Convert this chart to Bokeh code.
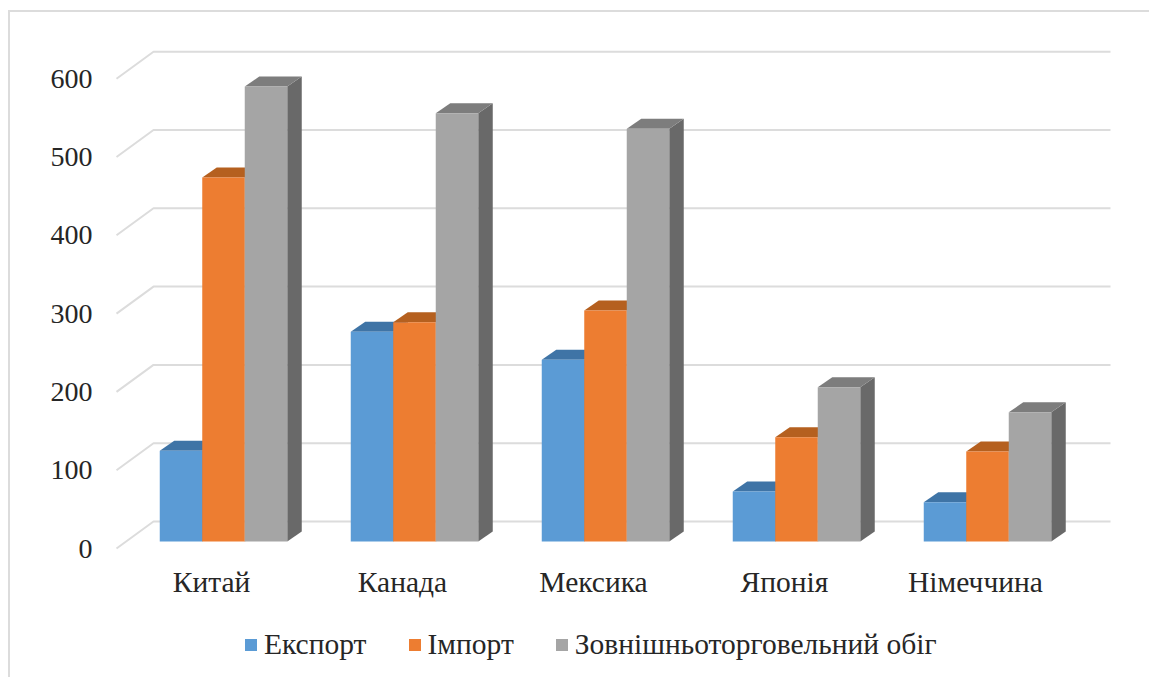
from bokeh.core.properties import value
from bokeh.embed import file_html
from bokeh.models import FixedTicker, Legend, LegendItem, LinearAxis, Range1d
from bokeh.plotting import figure
from bokeh.resources import INLINE

# Trade volumes by partner country
countries = ["Китай", "Канада", "Мексика", "Японія", "Німеччина"]
export_values = [116, 268, 232, 64, 50]
import_values = [465, 280, 295, 133, 115]
turnover_values = [581, 547, 527, 197, 165]
series_names = ["Експорт", "Імпорт", "Зовнішньоторговельний обіг"]
value_ticks = [0, 100, 200, 300, 400, 500, 600]

FONT = "Liberation Serif"
TEXT = "#262626"
GRID = "#dcdcdc"
FACE = ["#5b9bd5", "#ed7d31", "#a5a5a5"]
TOP = ["#3f74a6", "#b5601f", "#7d7d7d"]
SIDE = ["#35628c", "#8f4c19", "#696969"]

# Page geometry of the pseudo-3D plot box, in pixels
PAGE_W, PAGE_H = 1151, 679
ORIGIN_X, BASE_Y = 223.0, 541.0
GROUP_PX, UNIT_PX = 191.0, 0.783
BAR_PX = 42.5
DEPTH_X_PX, DEPTH_Y_PX = 14.5, 10.0
LEFT, TOP_EDGE = 10, 12
FRAME_L, FRAME_T = 112, 14


def x_of(px):
    return (px - ORIGIN_X) / GROUP_PX


def y_of(py):
    return (BASE_Y - py) / UNIT_PX


x_range = Range1d(x_of(FRAME_L), x_of(PAGE_W))
y_range = Range1d(y_of(PAGE_H), y_of(FRAME_T))

p = figure(
    width=PAGE_W - LEFT,
    height=PAGE_H - TOP_EDGE,
    x_range=x_range,
    y_range=y_range,
    output_backend="svg",
    toolbar_location=None,
    x_axis_location=None,
    y_axis_location=None,
    min_border_left=FRAME_L - LEFT,
    min_border_right=0,
    min_border_top=FRAME_T - TOP_EDGE,
    min_border_bottom=0,
    margin=(TOP_EDGE, 0, 0, LEFT),
    outline_line_color=None,
    background_fill_color="white",
    border_fill_color="white",
)
p.grid.visible = False
p.styles = {
    "box-shadow": f"-2px -2px 0 0 {GRID}",
}

# Value axis: labels sit a little below the front edge of each gridline
p.extra_y_ranges["labels"] = Range1d(y_range.start + 7 / UNIT_PX, y_range.end + 7 / UNIT_PX)
value_axis = LinearAxis(
    y_range_name="labels",
    ticker=FixedTicker(ticks=value_ticks),
    axis_line_color=None,
    major_tick_line_color=None,
    minor_tick_line_color=None,
    major_tick_out=0,
    major_tick_in=0,
    major_label_standoff=20,
    major_label_text_font=FONT,
    major_label_text_font_size="28px",
    major_label_text_color=TEXT,
)
p.add_layout(value_axis, "left")

# Back wall gridlines with their slanted floor returns
grid_xs, grid_ys = [], []
for v in value_ticks:
    grid_xs.append([x_of(116), x_of(153), x_of(1110)])
    grid_ys.append([v - 7 / UNIT_PX, v + 20 / UNIT_PX, v + 20 / UNIT_PX])
p.multi_line(grid_xs, grid_ys, line_color=GRID, line_width=2)

# Bars: each one is a front face plus a top and a side face
dx, dy = DEPTH_X_PX / GROUP_PX, DEPTH_Y_PX / UNIT_PX
w = BAR_PX / GROUP_PX
legend_items = []
for s, values in enumerate([export_values, import_values, turnover_values]):
    offset = (s - 1) * w
    top_xs, top_ys, side_xs, side_ys = [], [], [], []
    centers = [i + offset for i in range(len(countries))]
    for c, v in zip(centers, values):
        l, r = c - w / 2, c + w / 2
        top_xs.append([l, l + dx, r + dx, r])
        top_ys.append([v, v + dy, v + dy, v])
        side_xs.append([r, r + dx, r + dx, r])
        side_ys.append([0, dy, v + dy, v])
    p.patches(side_xs, side_ys, fill_color=SIDE[s], line_color=None)
    p.patches(top_xs, top_ys, fill_color=TOP[s], line_color=None)
    front = p.vbar(x=centers, top=values, bottom=0, width=w, fill_color=FACE[s], line_color=None)
    legend_items.append(LegendItem(label=series_names[s], renderers=[front]))

# Country names under the bar groups, centred slightly to the left of each group
p.text(
    x=[i - 12 / GROUP_PX for i in range(len(countries))],
    y=[y_of(581)] * len(countries),
    text=countries,
    text_font=value(FONT),
    text_font_size="29.5px",
    text_color=TEXT,
    text_align="center",
    text_baseline="middle",
)

legend = Legend(
    items=legend_items,
    orientation="horizontal",
    location=(131, 18),
    margin=0,
    padding=0,
    spacing=40,
    glyph_width=15,
    glyph_height=15,
    label_standoff=6,
    label_text_font=FONT,
    label_text_font_size="29.5px",
    label_text_color=TEXT,
    border_line_color=None,
    background_fill_color=None,
)
p.add_layout(legend)

open("out.html", "w").write(file_html(p, INLINE))
